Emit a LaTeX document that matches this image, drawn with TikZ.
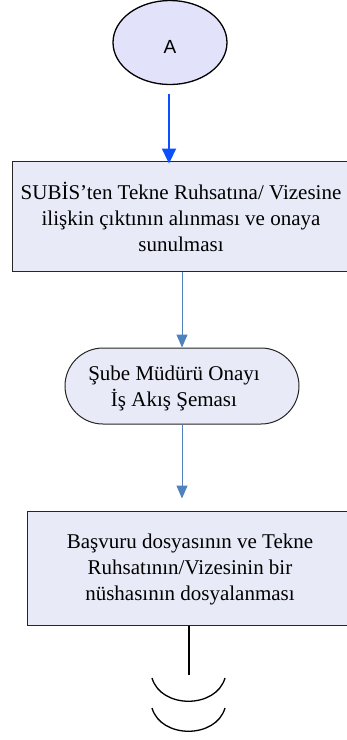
\documentclass[tikz,border=0pt]{standalone}
\usepackage{fontspec}
\setmainfont{Liberation Serif}
\newfontfamily\sansA{Liberation Sans}
\usetikzlibrary{arrows.meta,shapes.geometric}
\definecolor{boxfill}{HTML}{E8EBF7}
\definecolor{ellfill}{HTML}{E2E2FA}
\definecolor{conn}{HTML}{4F81BD}
\definecolor{bluearrow}{HTML}{0A50FF}
\tikzset{
  procbox/.style={draw=black!85, line width=1pt, fill=boxfill, rectangle, inner sep=0pt},
  lbl/.style={font=\fontsize{21}{26}\selectfont, align=center, inner sep=0pt},
  connarrow/.style={draw=conn, line width=1pt, -{Triangle[width=11pt,length=13pt,fill=conn]}},
}
\begin{document}
\begin{tikzpicture}[x=1pt,y=-1pt]
\useasboundingbox (0,0) rectangle (347,740);
% start terminal
\node[ellipse, draw=black, line width=1.3pt, fill=ellfill, minimum width=114pt, minimum height=84pt, inner sep=0pt] (A) at (170,42.5) {};
\node[font=\sansA\fontsize{19}{22}\selectfont, inner sep=0pt] (Atxt) at (170,47) {A};
% box 1
\node[procbox, minimum width=338pt, minimum height=110pt] (b1) at (181,216) {};
\node[lbl] (b1t) at (181,217) {SUBİS’ten Tekne Ruhsatına/ Vizesine\\ilişkin çıktının alınması ve onaya\\sunulması};
% rounded box
\node[procbox, rounded corners=38pt, minimum width=234pt, minimum height=76pt] (r1) at (182,386) {};
\node[lbl] (r1t) at (174,388) {Şube Müdürü Onayı\\İş Akış Şeması};
% box 2
\node[procbox, minimum width=323pt, minimum height=114pt] (b2) at (188.5,568) {};
\node[lbl] (b2t) at (190,569) {Başvuru dosyasının ve Tekne\\Ruhsatının/Vizesinin bir\\nüshasının dosyalanması};
% connectors
\draw[bluearrow, line width=2.2pt, -{Triangle[width=14pt,length=15pt]}, shorten <=8.5pt, shorten >=-3pt]
  (A.south -| 169,0) -- (b1.north -| 169,0);
\draw[connarrow] (b1.south -| r1.north) -- (r1.north);
\draw[connarrow, shorten >=12pt] (r1.south) -- (b2.north -| r1.south);
\coordinate (tail) at (189,675);
\draw[black, line width=1.2pt] (b2.south -| tail) -- (tail);
% continuation arcs
\draw[black, line width=1.3pt] (152,678) .. controls (161,709) and (216,709) .. (225,678);
\draw[black, line width=1.3pt] (152,708) .. controls (161,739) and (216,739) .. (225,708);
\end{tikzpicture}
\end{document}
